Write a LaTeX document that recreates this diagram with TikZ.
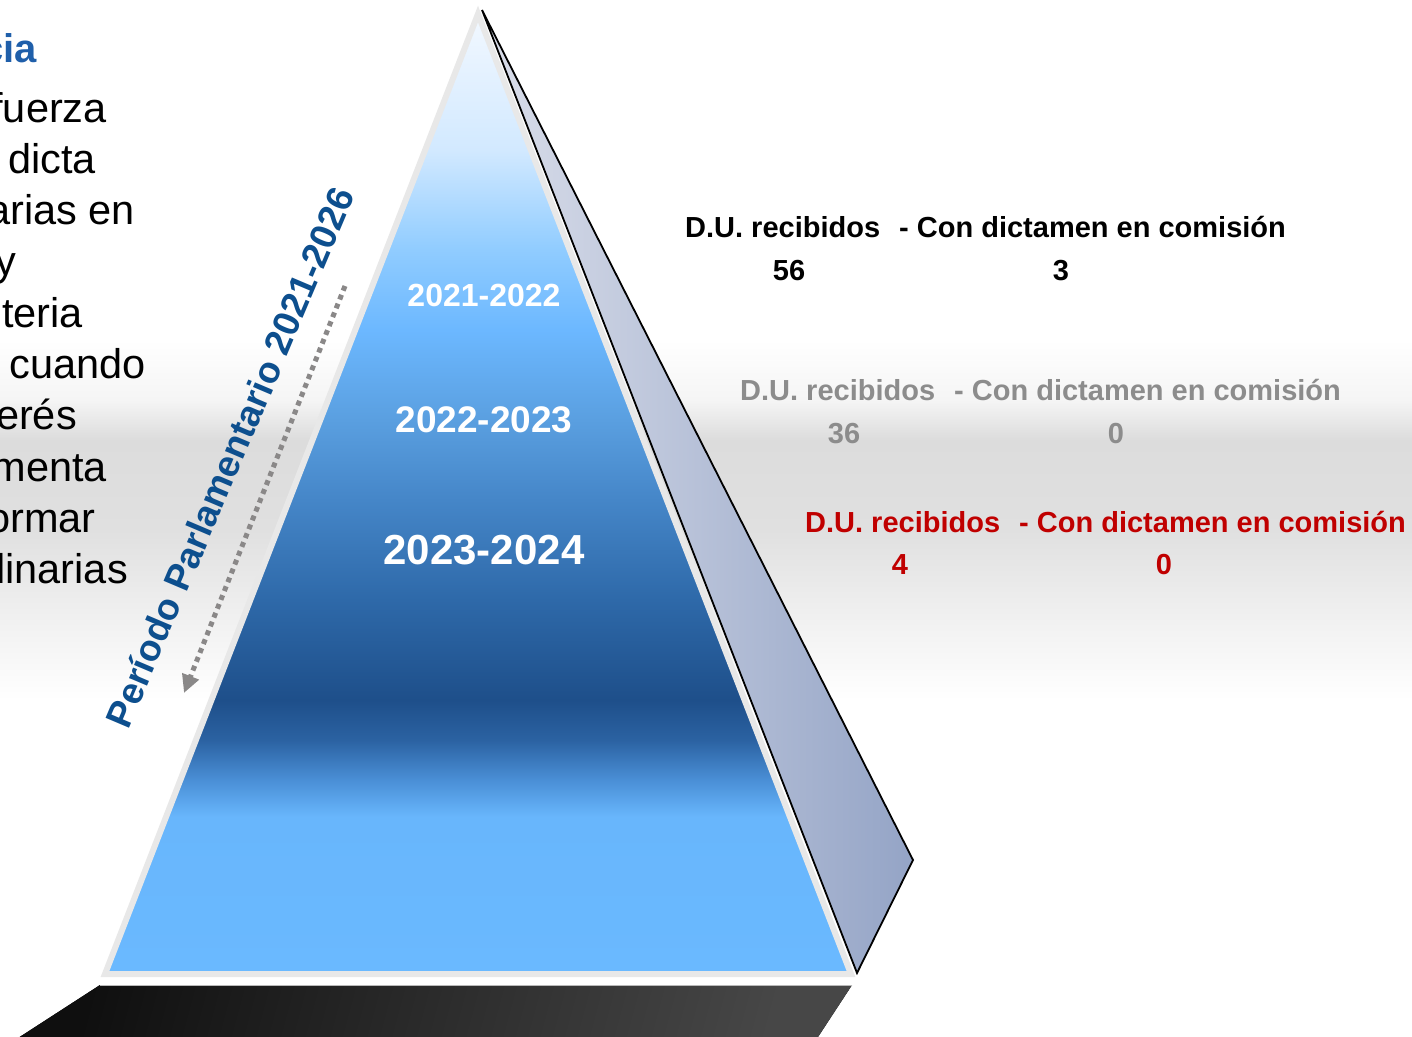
\documentclass[tikz,border=0pt]{standalone}
\usepackage{fontspec}
\setmainfont{Liberation Sans}
\usetikzlibrary{arrows.meta}
\newcommand\pxfont[1]{\fontsize{#1}{#1}\selectfont}
\definecolor{pA}{HTML}{F2F8FF}
\definecolor{pB}{HTML}{D2E9FF}
\definecolor{pC}{HTML}{90CCFF}
\definecolor{pD}{HTML}{6CB8FF}
\definecolor{pE}{HTML}{5A9FE0}
\definecolor{pF}{HTML}{4586C8}
\definecolor{pG}{HTML}{2E69A9}
\definecolor{pH}{HTML}{1E4F8A}
\definecolor{pI}{HTML}{2B62A2}
\definecolor{pJ}{HTML}{4A8FD6}
\definecolor{pK}{HTML}{68B6FC}
\definecolor{pL}{HTML}{6AB9FF}
\definecolor{g0}{HTML}{F5F5F5}
\definecolor{g1}{HTML}{DCDCDC}
\definecolor{g2}{HTML}{E0E0E0}
\definecolor{g3}{HTML}{EDEDED}
\definecolor{sideL}{HTML}{DADEEA}
\definecolor{sideR}{HTML}{94A4C6}
\definecolor{rimgray}{HTML}{E8E8E8}
\definecolor{titleblue}{HTML}{1F5FAA}
\definecolor{rotblue}{HTML}{0D4F8E}
\definecolor{dugray}{HTML}{8C8C8C}
\definecolor{dured}{HTML}{C00000}
\definecolor{arrgray}{HTML}{8A8888}
\pgfdeclareverticalshading{pyrshade}{100bp}{color(0bp)=(pL); color(25bp)=(pL); color(33.2bp)=(pK); color(35.1bp)=(pJ); color(37.19bp)=(pI); color(39.27bp)=(pH); color(44.48bp)=(pG); color(49.69bp)=(pF); color(53.85bp)=(pE); color(58.54bp)=(pD); color(62.71bp)=(pC); color(67.92bp)=(pB); color(75bp)=(pA); color(100bp)=(pA)}
\pgfdeclareverticalshading{bandshade}{100bp}{color(0bp)=(white); color(25bp)=(white); color(38.9bp)=(g3); color(48.6bp)=(g2); color(61.1bp)=(g1); color(66.7bp)=(g0); color(75bp)=(white); color(100bp)=(white)}
\begin{document}
\begin{tikzpicture}[x=1pt,y=-1pt,
  leftline/.style={anchor=base east, inner sep=0pt, font=\pxfont{41.5}},
  dulabel/.style={anchor=base west, inner sep=0pt, font=\bfseries\pxfont{29}},
  dunum/.style={anchor=base, inner sep=0pt, font=\bfseries\pxfont{29}},
  yearlabel/.style={anchor=base, inner sep=0pt, text=white},
]
\useasboundingbox (0,0) rectangle (1412,1036);
\clip (0,0) rectangle (1412,1036);
\fill[white] (0,0) rectangle (1412,1036);
% background band
\fill[shading=bandshade] (0,340) rectangle (1412,700);

% left text (cut off at the left edge)
\node[anchor=base east, inner sep=0pt, text=titleblue, font=\bfseries\pxfont{40}] (t0) at (37,62) {cia};
\node[leftline] (t1) at (107,122.0) {fuerza};
\node[leftline] (t2) at (96,173.3) {dicta};
\node[leftline] (t3) at (135,224.6) {arias en};
\node[leftline] (t4) at (16,275.9) {y};
\node[leftline] (t5) at (83,327.2) {teria};
\node[leftline] (t6) at (146,378.5) {cuando};
\node[leftline] (t7) at (77,429.8) {erés};
\node[leftline] (t8) at (107,481.1) {menta};
\node[leftline] (t9) at (96,532.4) {ormar};
\node[leftline] (t10) at (128,583.7) {linarias};

% dark base
\fill[left color=black!94, right color=black!72, shading angle=75] (100,985) -- (852,985) -- (816,1040) -- (15,1040) -- cycle;
\draw[gray!55, line width=1.2pt] (100,985.5) -- (852,985.5);

% pyramid
\filldraw[shading=pyrshade, draw=rimgray, line width=6pt, line join=miter, miter limit=20] (478,14) -- (851,974) -- (105,974) -- cycle;

% side face
\fill[left color=sideL, right color=sideR] (482,10) -- (913,860) -- (857,973) -- cycle;
\draw[black, line width=1.8pt, line join=miter] (857,973) -- (482,10) -- (913,860) -- cycle;

% rotated period label
\node[rotate=67, inner sep=0pt, text=rotblue, font=\bfseries\pxfont{37}] (per) at (230,457) {Período Parlamentario 2021-2026};
\coordinate (arrTop) at (345,286);
\coordinate (arrBot) at (184,693);
\draw[arrgray, line width=5pt, dash pattern=on 5pt off 4.5pt, -{Triangle[length=18pt,width=17pt]}] (arrTop) -- (arrBot);

% years
\node[yearlabel, font=\bfseries\pxfont{32}] (y1) at (484,306.5) {2021-2022};
\node[yearlabel, font=\bfseries\pxfont{37}] (y2) at (484,432) {2022-2023};
\node[yearlabel, font=\bfseries\pxfont{42}] (y3) at (484,564) {2023-2024};

% D.U. texts
\node[dulabel] (a1) at (685,237.5) {D.U. recibidos};
\node[dulabel] (a2) at (899,237.5) {- Con dictamen en comisión};
\node[dunum] (a3) at (789,280.5) {56};
\node[dunum] (a4) at (1061,280.5) {3};

\node[dulabel, text=dugray] (b1) at (740,400.5) {D.U. recibidos};
\node[dulabel, text=dugray] (b2) at (954,400.5) {- Con dictamen en comisión};
\node[dunum, text=dugray] (b3) at (844,443.5) {36};
\node[dunum, text=dugray] (b4) at (1116,443.5) {0};

\node[dulabel, text=dured] (c1) at (805,532.5) {D.U. recibidos};
\node[dulabel, text=dured] (c2) at (1019,532.5) {- Con dictamen en comisión};
\node[dunum, text=dured] (c3) at (900,574.5) {4};
\node[dunum, text=dured] (c4) at (1164,574.5) {0};
\end{tikzpicture}
\end{document}
